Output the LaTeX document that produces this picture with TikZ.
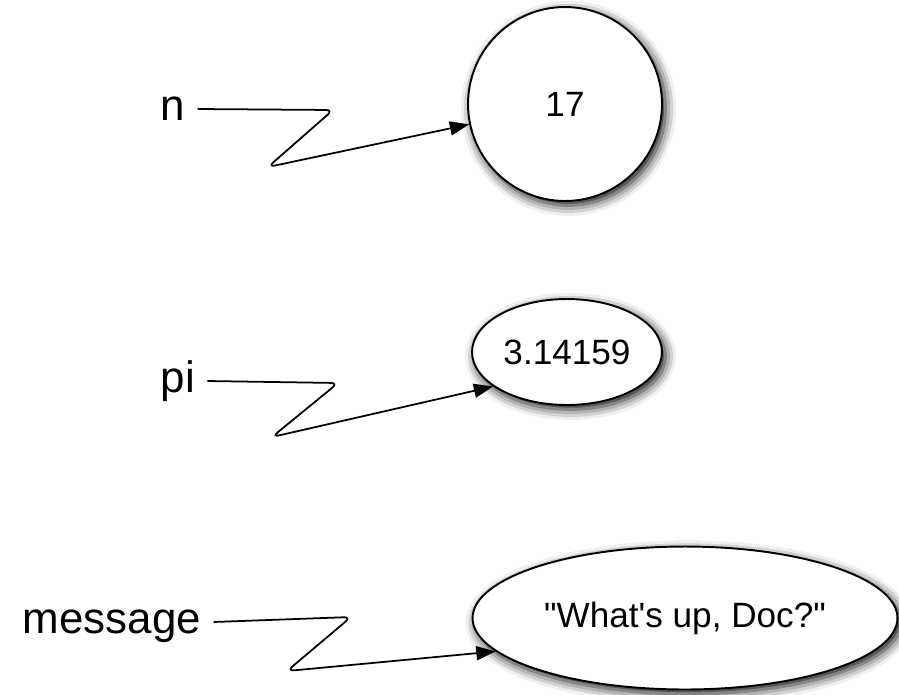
\documentclass[tikz,border=0pt]{standalone}
\usepackage{fontspec}
\setmainfont{Liberation Sans}
\newfontfamily\valfont{Liberation Sans}
\usepackage{tikz}
\usetikzlibrary{arrows.meta}
\usetikzlibrary{shapes.geometric}
\usetikzlibrary{shadows.blur}

\tikzset{
    varname/.style={font=\fontsize{25}{30}\selectfont, text height=13pt, text depth=0pt, inner xsep=7pt, inner ysep=0pt},
    value/.style={draw=black, line width=1.1pt, fill=white, inner sep=0pt, font=\valfont\fontsize{20}{24}\selectfont,
        blur shadow={shadow xshift=2pt, shadow yshift=-2.5pt, shadow blur radius=6pt, shadow opacity=95}},
    ref/.style={-{Triangle[length=11pt, width=8pt]}, line width=1pt, rounded corners=4pt},
}

\begin{document}
\begin{tikzpicture}[x=0.02cm, y=-0.02cm]
            \useasboundingbox (0,0) rectangle (899,694);

            % values
            \node[value, circle, minimum size=3.88cm] (v17) at (565,104) {17};
            \node[value, ellipse, minimum width=3.8cm, minimum height=2.12cm] (vpi) at (567,352) {3.14159};
            \node[value, ellipse, minimum width=8.5cm, minimum height=2.86cm] (vmsg) at (685,618) {"What's up, Doc?"};

            % variable names
            \node[varname, anchor=west] (n) at (148,109) {n};
            \node[varname, anchor=west] (pi) at (148,381) {pi};
            \node[varname, anchor=west] (msg) at (10,622) {message};

            %\draw[ref] (n.east) to[out=0, in=200] (v17);
            \draw[ref] (n.east) -- (333,110) -- (268,167) -- (v17.192);
            \draw[ref] (pi.east) -- (338,383) -- (272,437) -- (vpi.205);
            \draw[ref] (msg.east) -- (351,617) -- (287,671) -- (vmsg.190);

\end{tikzpicture}
\end{document}
